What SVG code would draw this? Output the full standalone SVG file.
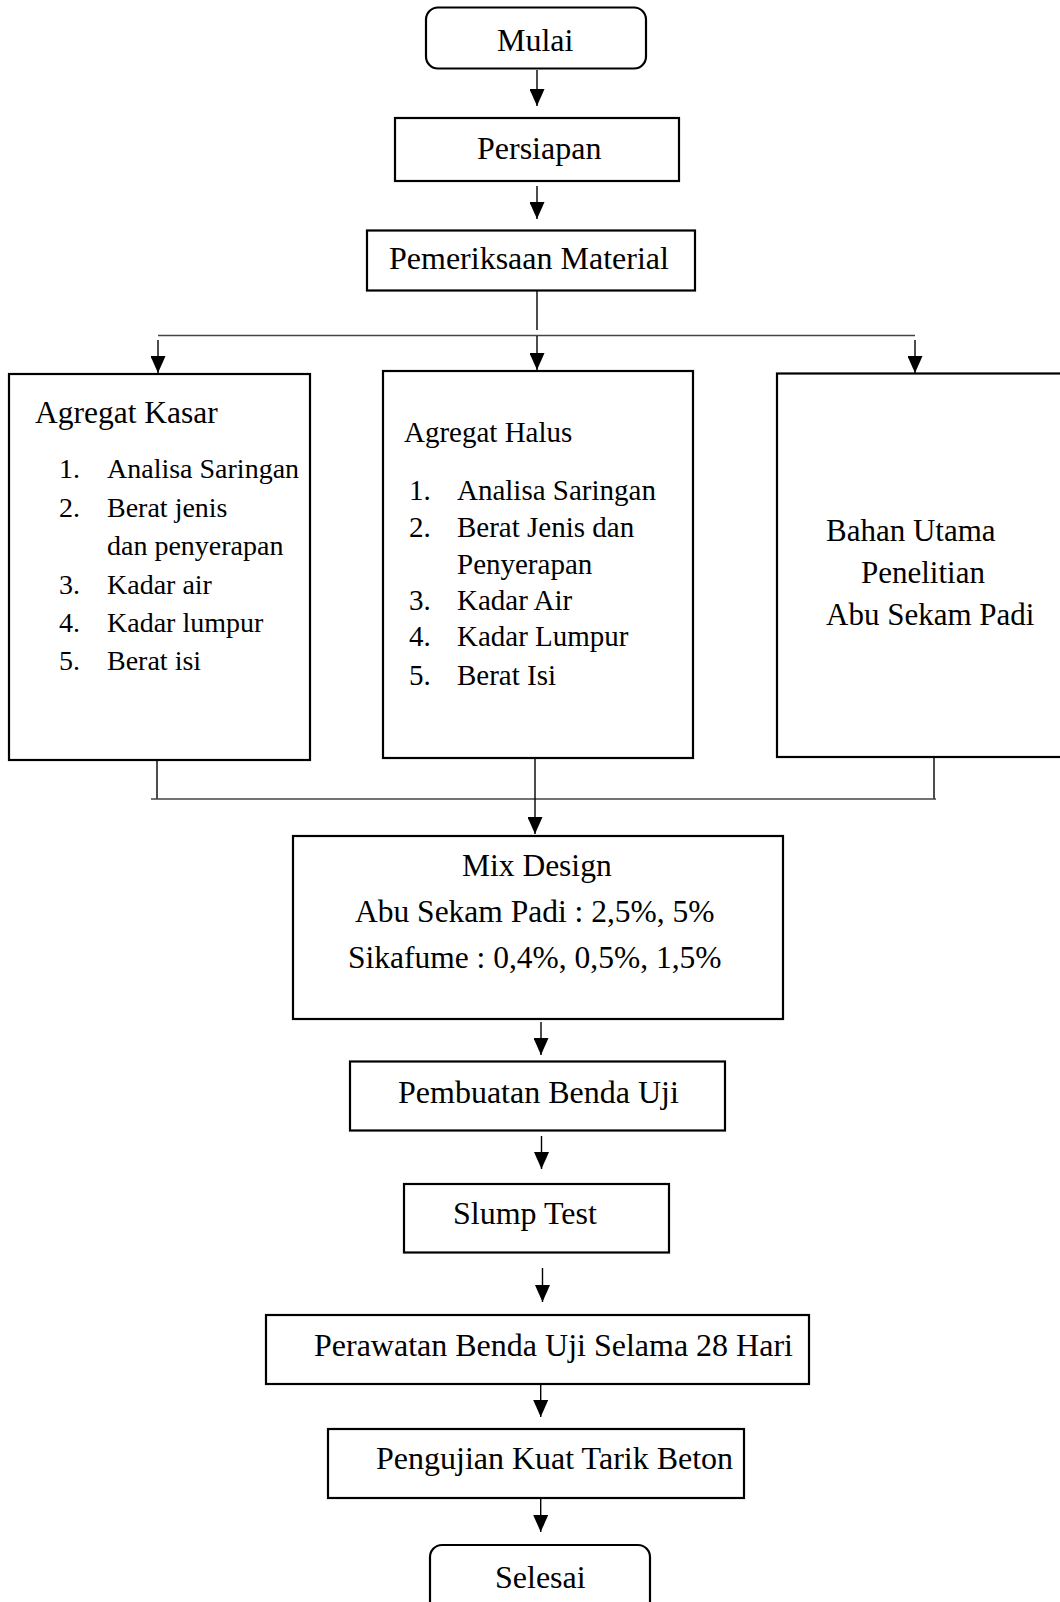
<svg xmlns="http://www.w3.org/2000/svg" width="1060" height="1602" viewBox="0 0 1060 1602">
<defs>
<style>
.box{fill:#fff;stroke:#000;stroke-width:2.2}
.t{font-family:"Liberation Serif","Times New Roman",serif;fill:#000;font-size:32px}
.l{font-size:28px}
.h{font-size:29px}
.m{font-size:31.5px}
.b{font-size:31px}
.c{fill:none;stroke:#000;stroke-width:1.4}
.g{fill:none;stroke:#444;stroke-width:1.4}
</style>
<marker id="ah" viewBox="0 0 17 15" markerWidth="17" markerHeight="15" refX="17" refY="7.5" orient="auto" markerUnits="userSpaceOnUse">
<path d="M0,0 L17,7.5 L0,15 z" fill="#000"/>
</marker>
</defs>
<rect width="1060" height="1602" fill="#fff"/>

<g id="connectors">
<line class="c" x1="537" y1="70" x2="537" y2="106" marker-end="url(#ah)"/>
<line class="c" x1="537" y1="186" x2="537" y2="219" marker-end="url(#ah)"/>
<line class="c" x1="537" y1="291" x2="537" y2="330"/>
<line class="g" x1="158" y1="335.5" x2="915" y2="335.5"/>
<line class="c" x1="158" y1="340" x2="158" y2="373" marker-end="url(#ah)"/>
<line class="c" x1="537" y1="336" x2="537" y2="370" marker-end="url(#ah)"/>
<line class="c" x1="915" y1="340" x2="915" y2="373" marker-end="url(#ah)"/>
<line class="c" x1="157" y1="761" x2="157" y2="799"/>
<line class="c" x1="934" y1="758" x2="934" y2="799"/>
<line class="g" x1="151" y1="799" x2="936" y2="799"/>
<line class="c" x1="535" y1="759" x2="535" y2="834" marker-end="url(#ah)"/>
<line class="c" x1="541" y1="1022" x2="541" y2="1055" marker-end="url(#ah)"/>
<line class="c" x1="541.5" y1="1136" x2="541.5" y2="1169" marker-end="url(#ah)"/>
<line class="c" x1="542.5" y1="1268" x2="542.5" y2="1302" marker-end="url(#ah)"/>
<line class="c" x1="540.7" y1="1384" x2="540.7" y2="1417" marker-end="url(#ah)"/>
<line class="c" x1="540.7" y1="1499" x2="540.7" y2="1532" marker-end="url(#ah)"/>
</g>

<g id="mulai">
<rect class="box" x="426" y="7.5" width="220" height="61" rx="12"/>
<text class="t" x="497" y="51">Mulai</text>
</g>

<g id="persiapan">
<rect class="box" x="395" y="118" width="284" height="63"/>
<text class="t" x="477" y="158.5">Persiapan</text>
</g>

<g id="pemeriksaan">
<rect class="box" x="367" y="230.5" width="328" height="60"/>
<text class="t" x="389" y="269">Pemeriksaan Material</text>
</g>

<g id="agregat-kasar">
<rect class="box" x="9" y="374" width="301" height="386"/>
<text class="t m" x="35" y="423">Agregat Kasar</text>
<text class="t l" x="59" y="478">1.</text><text class="t l" x="107" y="478">Analisa Saringan</text>
<text class="t l" x="59" y="517">2.</text><text class="t l" x="107" y="517">Berat jenis</text>
<text class="t l" x="107" y="555">dan penyerapan</text>
<text class="t l" x="59" y="594">3.</text><text class="t l" x="107" y="594">Kadar air</text>
<text class="t l" x="59" y="632">4.</text><text class="t l" x="107" y="632">Kadar lumpur</text>
<text class="t l" x="59" y="670">5.</text><text class="t l" x="107" y="670">Berat isi</text>
</g>

<g id="agregat-halus">
<rect class="box" x="383" y="371" width="310" height="387"/>
<text class="t h" x="404" y="441.5">Agregat Halus</text>
<text class="t h" x="409" y="500">1.</text><text class="t h" x="457" y="500">Analisa Saringan</text>
<text class="t h" x="409" y="537">2.</text><text class="t h" x="457" y="537">Berat Jenis dan</text>
<text class="t h" x="457" y="573.5">Penyerapan</text>
<text class="t h" x="409" y="610">3.</text><text class="t h" x="457" y="610">Kadar Air</text>
<text class="t h" x="409" y="646">4.</text><text class="t h" x="457" y="646">Kadar Lumpur</text>
<text class="t h" x="409" y="685">5.</text><text class="t h" x="457" y="685">Berat Isi</text>
</g>

<g id="bahan-utama">
<rect class="box" x="777" y="373.5" width="293" height="383.5"/>
<text class="t b" x="826" y="541">Bahan Utama</text>
<text class="t b" x="861" y="583">Penelitian</text>
<text class="t b" x="826" y="625">Abu Sekam Padi</text>
</g>

<g id="mix-design">
<rect class="box" x="293" y="836" width="490" height="183"/>
<text class="t m" x="462" y="876">Mix Design</text>
<text class="t m" x="355" y="921.5">Abu Sekam Padi : 2,5%, 5%</text>
<text class="t m" x="348" y="968">Sikafume : 0,4%, 0,5%, 1,5%</text>
</g>

<g id="pembuatan">
<rect class="box" x="350" y="1061.5" width="375" height="69"/>
<text class="t" x="398" y="1103">Pembuatan Benda Uji</text>
</g>

<g id="slump">
<rect class="box" x="404" y="1184" width="265" height="68.5"/>
<text class="t" x="453" y="1224">Slump Test</text>
</g>

<g id="perawatan">
<rect class="box" x="266" y="1315" width="543" height="69"/>
<text class="t" x="314" y="1356">Perawatan Benda Uji Selama 28 Hari</text>
</g>

<g id="pengujian">
<rect class="box" x="328" y="1429" width="416" height="69"/>
<text class="t" x="376" y="1469">Pengujian Kuat Tarik Beton</text>
</g>

<g id="selesai">
<rect class="box" x="430" y="1545" width="220" height="75" rx="12"/>
<text class="t" x="495" y="1588">Selesai</text>
</g>
</svg>
